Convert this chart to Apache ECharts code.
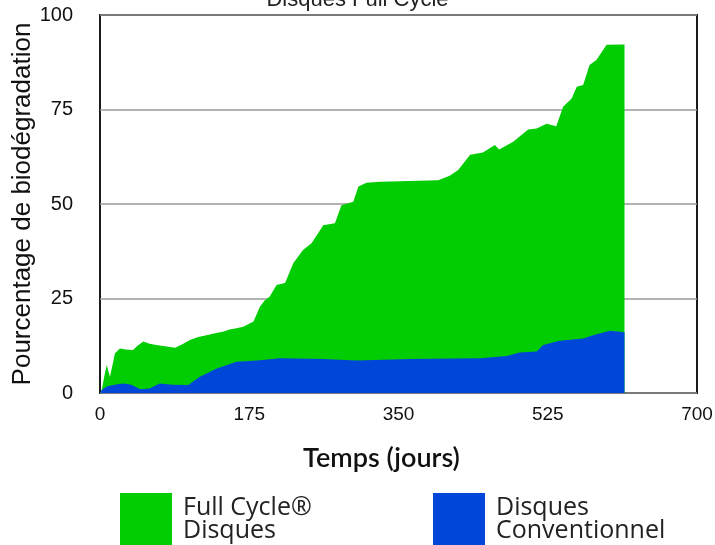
<!DOCTYPE html>
<html>
<head>
<meta charset="utf-8">
<script src="https://cdn.jsdelivr.net/npm/echarts@6/dist/echarts.min.js"></script>
<style>html,body{margin:0;padding:0;background:#fff}#c{width:715px;height:545px}</style>
</head>
<body>
<div id="c"></div>
<script>
const titleText = 'Disques Full Cycle';
const xTicks = [0, 175, 350, 525, 700];
const yTicks = [0, 25, 50, 75, 100];
const fullCycleName = 'Full Cycle®\nDisques';
const convName = 'Disques\nConventionnel';

const fullCycleDays = [0, 2, 6, 8, 9.5, 11.7, 17.6, 23.4, 30, 38.7, 44, 50.8, 58, 66, 76, 88, 96, 105.5, 115, 125, 135, 144, 152, 160, 168, 180, 187.5, 193, 199, 207, 217, 226.6, 238, 248, 255, 261.7, 275.5, 283, 297, 303, 312.5, 328, 363, 396.5, 410, 420, 434, 449, 463, 468, 484.5, 502, 512, 523.6, 535, 543, 553, 559, 566.5, 574, 582, 594, 615];
const fullCycleValues = [0, 0.8, 5.5, 7.4, 6.0, 4.3, 10.5, 11.8, 11.5, 11.4, 12.5, 13.6, 13.0, 12.7, 12.4, 12.0, 12.8, 14.0, 14.8, 15.3, 15.8, 16.2, 16.8, 17.1, 17.5, 18.9, 22.8, 24.5, 25.5, 28.6, 29.1, 34.3, 37.8, 39.6, 42.0, 44.4, 44.9, 49.7, 50.6, 54.6, 55.6, 55.9, 56.1, 56.3, 57.5, 59.0, 63.0, 63.6, 65.6, 64.4, 66.5, 69.7, 70.0, 71.2, 70.6, 75.7, 77.9, 81.0, 81.5, 86.8, 88.1, 92.1, 92.2];

const convDays = [0, 2, 8, 17, 27, 37, 47, 58, 70, 85, 103.5, 117, 137, 160, 184, 211, 262, 301, 363, 445.5, 477, 492, 512, 519.6, 539, 566.6, 578, 598, 615];
const convValues = [0, 0.8, 1.7, 2.2, 2.5, 2.2, 1.0, 1.2, 2.5, 2.2, 2.1, 4.3, 6.5, 8.3, 8.6, 9.2, 9.0, 8.6, 9.0, 9.2, 9.8, 10.7, 11.0, 12.7, 13.8, 14.4, 15.3, 16.5, 16.1];

const pair = (xs, ys) => xs.map((x, i) => [x, ys[i]]);
const SANS = 'Liberation Sans';
const GEO = 'Lato';
const LEG = 'Open Sans';
const chart = echarts.init(document.getElementById('c'));
const legendText = { fontFamily: LEG, fontSize: 25, color: '#222', lineHeight: 23, padding: [0, 0, 0, 6] };
chart.setOption({
  animation: false,
  textStyle: { fontFamily: SANS },
  title: {
    text: titleText, left: 'center', top: -16,
    textStyle: { fontFamily: SANS, fontSize: 22, fontWeight: 'normal', color: '#222' }
  },
  grid: {
    left: 100, right: 18, top: 15, bottom: 152, outerBoundsMode: 'none', containLabel: false,
    show: true, borderColor: '#1a1a1a', borderWidth: 2, backgroundColor: 'transparent'
  },
  legend: [
    {
      data: [fullCycleName], left: 120, top: 493, itemWidth: 52, itemHeight: 52, itemGap: 0,
      icon: 'rect', selectedMode: false, padding: 0, textStyle: legendText
    },
    {
      data: [convName], left: 433, top: 493, itemWidth: 52, itemHeight: 52, itemGap: 0,
      icon: 'rect', selectedMode: false, padding: 0, textStyle: legendText
    }
  ],
  xAxis: {
    type: 'value', min: 0, max: 700, interval: 175,
    name: 'Temps (jours)', nameLocation: 'middle', nameGap: 52,
    nameTextStyle: { fontFamily: GEO, fontSize: 27, fontWeight: 600, color: '#111', padding: [0, 34, 0, 0] },
    axisLine: { show: false }, axisTick: { show: false }, splitLine: { show: false },
    axisLabel: { fontFamily: SANS, fontSize: 19, color: '#111', margin: 12,
      formatter: v => xTicks.includes(v) ? String(v) : '' }
  },
  yAxis: {
    type: 'value', min: 0, max: 100, interval: 25,
    name: 'Pourcentage de biodégradation', nameLocation: 'middle', nameGap: 64,
    nameMoveOverlap: false,
    nameTextStyle: { fontFamily: SANS, fontSize: 26, fontWeight: 'normal', color: '#111' },
    axisLine: { show: false }, axisTick: { show: false },
    splitLine: { show: true, lineStyle: { color: '#9a9a9a', width: 1.5 } },
    axisLabel: { fontFamily: SANS, fontSize: 20, color: '#111', margin: 27,
      formatter: v => yTicks.includes(v) ? String(v) : '' }
  },
  series: [
    {
      name: fullCycleName, type: 'line', data: pair(fullCycleDays, fullCycleValues),
      showSymbol: false, symbol: 'none', lineStyle: { width: 0 },
      itemStyle: { color: '#02cc02' }, areaStyle: { color: '#02cc02', opacity: 1 }, z: 2
    },
    {
      name: convName, type: 'line', data: pair(convDays, convValues),
      showSymbol: false, symbol: 'none', lineStyle: { width: 0 },
      itemStyle: { color: '#0047d9' }, areaStyle: { color: '#0047d9', opacity: 1 }, z: 3
    }
  ]
});
</script>
</body>
</html>
